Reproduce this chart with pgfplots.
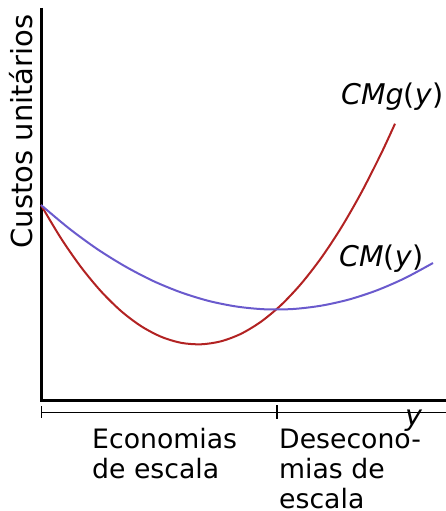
\documentclass[border=0pt]{standalone}
\usepackage{pgfplots}
\pgfplotsset{compat=1.18}
\usepackage{fontspec}
\setmainfont{DejaVu Sans}
\definecolor{cmgred}{HTML}{B22222}
\definecolor{cmblue}{HTML}{6A5ACD}
\begin{document}
\begin{tikzpicture}
\begin{axis}[
  scale only axis, width=446bp, height=511bp,
  xmin=0, xmax=446, ymin=0, ymax=511, y dir=reverse,
  hide axis, clip=false,
]
\coordinate (ll) at (axis cs:0,511);
\coordinate (ur) at (axis cs:446,0);
% axes
\addplot[black, line width=3bp] coordinates {(41,8) (41,400) (446,400)};
% bracket
\addplot[black, line width=1.3bp] coordinates {(41,412.5) (446,412.5)};
\addplot[black, line width=1.3bp] coordinates {(41.5,406) (41.5,418)};
\addplot[black, line width=2bp] coordinates {(277,405) (277,419)};
% CMg
\addplot[cmgred, line width=2bp, smooth] coordinates {
(41,205) (61,238.3) (81,267.1) (101,291.3) (121,311.0) (141,326.1) (161,336.7)
(181,342.8) (201,344.3) (221,341.3) (241,333.8) (261,321.7) (281,305.1)
(301,283.9) (321,258.2) (341,228.0) (361,193.2) (381,153.9) (395,123.7)};
% CM
\addplot[cmblue, line width=2bp, smooth] coordinates {
(41,205) (69,228.4) (97,248.9) (125,266.3) (153,280.9) (181,292.4) (209,301.0)
(237,306.6) (265,309.3) (293,309.0) (321,305.7) (349,299.5) (377,290.3)
(405,278.1) (433,263.0)};
\node[anchor=base west, inner sep=0pt, font=\fontsize{28.5bp}{34bp}\selectfont] at (axis cs:341,104) {\textit{CMg}(\textit{y})};
\node[anchor=base west, inner sep=0pt, font=\fontsize{28.5bp}{34bp}\selectfont] at (axis cs:339,266) {\textit{CM}(\textit{y})};
\node[anchor=base west, inner sep=0pt, font=\fontsize{28.5bp}{34bp}\selectfont] at (axis cs:405,425) {\textit{y}};
\node[anchor=center, rotate=90, inner sep=0pt, font=\fontsize{29bp}{34bp}\selectfont] at (axis cs:21,131.5) {Custos unitários};
\begin{scope}[every node/.style={anchor=base west, inner sep=0pt, font=\fontsize{26.7bp}{31bp}\selectfont}]
\node at (axis cs:92,448) {Economias};
\node at (axis cs:92,478) {de escala};
\node at (axis cs:279,448) {Desecono-};
\node at (axis cs:279,478) {mias de};
\node at (axis cs:279,508) {escala};
\end{scope}
\end{axis}
\pgfresetboundingbox
\useasboundingbox (ll) rectangle (ur);
\end{tikzpicture}
\end{document}
